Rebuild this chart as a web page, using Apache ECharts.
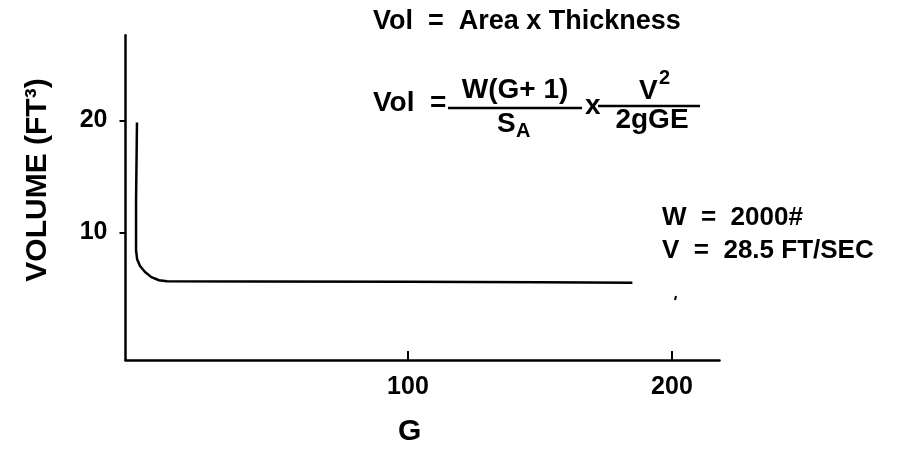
<!DOCTYPE html>
<html>
<head>
<meta charset="utf-8">
<script src="https://cdn.jsdelivr.net/npm/echarts@6/dist/echarts.min.js"></script>
<style>
  html, body { margin: 0; padding: 0; background: #fff; }
  #chart { width: 899px; height: 465px; }
</style>
</head>
<body>
<div id="chart"></div>
<script>
// G (x) and volume (y)
const gValues = [-2.65, -3.0, -3.0, -2.6, -1.5, 0.4, 2.8, 5.7, 8.7, 40, 100, 150, 185];
const volValues = [19.8, 12.9, 8.4, 7.6, 7.0, 6.45, 6.0, 5.72, 5.63, 5.6, 5.58, 5.55, 5.5];
const xTicks = [100, 200];
const yTicks = [10, 20];

const font = "'Liberation Sans', Arial, Helvetica, sans-serif";
const chart = echarts.init(document.getElementById('chart'));

const curve = gValues.map((g, i) => [g, volValues[i]]);

// text placed by x (left edge unless align given) and vertical centre
const txt = (x, y, text, size, align) => ({
  type: 'text', x: x, y: y,
  style: {
    text: text, fill: '#000', font: 'bold ' + size + 'px ' + font,
    align: align || 'left', verticalAlign: 'middle'
  }
});

const bar = (x1, x2, y) => ({
  type: 'line',
  shape: { x1: x1, y1: y, x2: x2, y2: y },
  style: { stroke: '#000', lineWidth: 2.5 }
});

const option = {
  animation: false,
  backgroundColor: '#fff',
  grid: { left: 125.5, right: 179.5, top: 35.2, bottom: 105 },
  xAxis: {
    type: 'value',
    min: -7, max: 218,
    splitLine: { show: false },
    axisLine: { onZero: false, lineStyle: { color: '#000', width: 2.5 } },
    axisTick: { show: true, inside: true, length: 9, customValues: xTicks, lineStyle: { color: '#000', width: 2 } },
    axisLabel: { customValues: xTicks, margin: 15, color: '#000', fontSize: 25, fontWeight: 'bold', fontFamily: font }
  },
  yAxis: {
    type: 'value',
    min: -1.4, max: 27.6,
    splitLine: { show: false },
    axisLine: { onZero: false, lineStyle: { color: '#000', width: 2.5 } },
    axisTick: { show: true, length: 6, customValues: yTicks, lineStyle: { color: '#000', width: 2 } },
    axisLabel: { customValues: yTicks, margin: 18, color: '#000', fontSize: 25, fontWeight: 'bold', fontFamily: font }
  },
  series: [{
    type: 'line',
    data: curve,
    showSymbol: false,
    smooth: false,
    lineStyle: { color: '#000', width: 2.5, join: 'round' }
  }],
  graphic: [
    // axis titles
    txt(398, 432, 'G', 30),
    {
      type: 'text', x: 38, y: 180, rotation: Math.PI / 2,
      style: { text: 'VOLUME (FT³)', fill: '#000', font: 'bold 30px ' + font, align: 'center', verticalAlign: 'middle' }
    },
    // formulas
    txt(373, 22, 'Vol  =  Area x Thickness', 27),
    txt(373, 103, 'Vol  =', 28),
    txt(515, 90, 'W(G+ 1)', 28, 'center'),
    bar(448, 582, 108),
    txt(497, 124, 'S', 28),
    txt(516, 131, 'A', 20),
    txt(585, 106, 'x', 28),
    txt(639, 91, 'V', 28),
    txt(659, 78, '2', 20),
    bar(598, 700, 106),
    txt(652, 120, '2gGE', 28, 'center'),
    // parameters
    txt(662, 218, 'W  =  2000#', 26),
    txt(662, 251, 'V  =  28.5 FT/SEC', 26),
    { type: 'line', shape: { x1: 676, y1: 296, x2: 675, y2: 300 }, style: { stroke: '#000', lineWidth: 2 } }
  ]
};

chart.setOption(option);
</script>
</body>
</html>
